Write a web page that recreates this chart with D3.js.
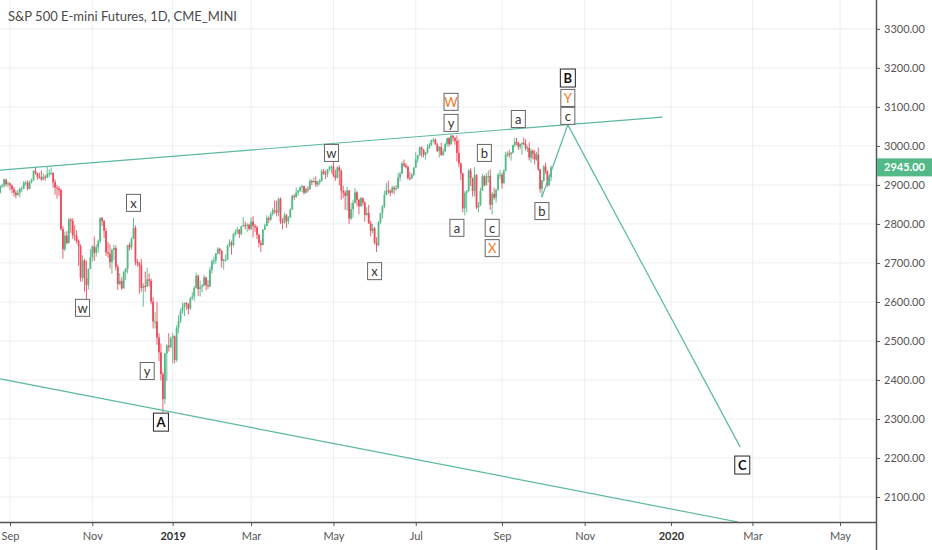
<!DOCTYPE html>
<html>
<head>
<meta charset="utf-8">
<script src="https://cdn.jsdelivr.net/npm/d3@7"></script>
<style>
body { margin: 0; background: #fff; }
svg { display: block; font-family: Lato, "Open Sans", sans-serif; }
</style>
</head>
<body>
<script>
var width = 932,
    height = 550,
    plotW = 876,
    plotH = 522;

var title = "S&P 500 E-mini Futures, 1D, CME_MINI";

// exchange holidays, no bar on these days
var holidays = ["2018-09-03", "2018-11-22", "2018-12-25", "2019-01-01", "2019-01-21",
  "2019-02-18", "2019-04-19", "2019-05-27", "2019-07-04", "2019-09-02", "2019-11-28",
  "2019-12-25", "2020-01-01", "2020-01-20", "2020-02-17", "2020-04-10", "2020-05-25"];

// daily bars: date, open, high, low, close
var candles = [
  ["2018-08-27",2880,2899,2878,2897], ["2018-08-28",2897,2903,2893,2898], ["2018-08-29",2898,2916,2893,2914],
  ["2018-08-30",2914,2915,2896,2902], ["2018-08-31",2902,2909,2894,2904],
  ["2018-09-04",2904,2906,2887,2899], ["2018-09-05",2899,2901,2879,2889], ["2018-09-06",2889,2895,2870,2880],
  ["2018-09-07",2880,2886,2866,2874], ["2018-09-10",2874,2887,2872,2880], ["2018-09-11",2880,2893,2868,2890],
  ["2018-09-12",2890,2897,2882,2891], ["2018-09-13",2891,2910,2889,2906], ["2018-09-14",2906,2910,2898,2906],
  ["2018-09-17",2906,2912,2886,2890], ["2018-09-18",2890,2911,2889,2907], ["2018-09-19",2907,2917,2904,2912],
  ["2018-09-20",2912,2938,2911,2936], ["2018-09-21",2936,2946,2926,2930], ["2018-09-24",2930,2932,2913,2921],
  ["2018-09-25",2921,2931,2916,2919], ["2018-09-26",2919,2937,2911,2914], ["2018-09-27",2914,2929,2912,2921],
  ["2018-09-28",2921,2925,2911,2919],
  ["2018-10-01",2919,2948,2917,2929], ["2018-10-02",2929,2940,2920,2930], ["2018-10-03",2930,2945,2925,2931],
  ["2018-10-04",2931,2932,2893,2907], ["2018-10-05",2907,2914,2875,2893], ["2018-10-08",2893,2900,2865,2891],
  ["2018-10-09",2891,2897,2872,2887], ["2018-10-10",2887,2890,2783,2787], ["2018-10-11",2787,2795,2711,2735],
  ["2018-10-12",2735,2780,2730,2770], ["2018-10-15",2770,2782,2747,2751], ["2018-10-16",2751,2815,2750,2811],
  ["2018-10-17",2811,2815,2777,2808], ["2018-10-18",2808,2815,2762,2771], ["2018-10-19",2771,2796,2757,2769],
  ["2018-10-22",2769,2784,2750,2756], ["2018-10-23",2756,2760,2693,2743], ["2018-10-24",2743,2748,2652,2662],
  ["2018-10-25",2662,2720,2652,2706], ["2018-10-26",2706,2711,2627,2661], ["2018-10-29",2661,2706,2603,2643],
  ["2018-10-30",2643,2686,2632,2685], ["2018-10-31",2685,2736,2684,2715],
  ["2018-11-01",2715,2745,2704,2742], ["2018-11-02",2742,2768,2705,2726], ["2018-11-05",2726,2748,2716,2740],
  ["2018-11-06",2740,2760,2726,2756], ["2018-11-07",2756,2817,2750,2815], ["2018-11-08",2815,2818,2795,2807],
  ["2018-11-09",2807,2810,2764,2782], ["2018-11-12",2782,2790,2718,2727], ["2018-11-13",2727,2754,2713,2724],
  ["2018-11-14",2724,2748,2686,2702], ["2018-11-15",2702,2737,2672,2733], ["2018-11-16",2733,2747,2707,2738],
  ["2018-11-19",2738,2745,2681,2690], ["2018-11-20",2690,2696,2631,2646], ["2018-11-21",2646,2674,2643,2654],
  ["2018-11-23",2654,2663,2631,2635], ["2018-11-26",2635,2680,2634,2677], ["2018-11-27",2677,2687,2656,2685],
  ["2018-11-28",2685,2746,2673,2746], ["2018-11-29",2746,2753,2732,2740], ["2018-11-30",2740,2765,2734,2763],
  ["2018-12-03",2763,2815,2761,2790], ["2018-12-04",2790,2796,2694,2703], ["2018-12-05",2703,2710,2690,2700],
  ["2018-12-06",2700,2703,2621,2694], ["2018-12-07",2694,2711,2626,2636], ["2018-12-10",2636,2648,2588,2641],
  ["2018-12-11",2641,2678,2626,2640], ["2018-12-12",2640,2687,2638,2658], ["2018-12-13",2658,2673,2640,2654],
  ["2018-12-14",2654,2660,2594,2601], ["2018-12-17",2601,2612,2532,2550], ["2018-12-18",2550,2574,2532,2550],
  ["2018-12-19",2550,2600,2490,2509], ["2018-12-20",2509,2520,2448,2471], ["2018-12-21",2471,2494,2399,2415],
  ["2018-12-24",2415,2420,2317,2351], ["2018-12-26",2351,2470,2339,2468], ["2018-12-27",2468,2492,2398,2488],
  ["2018-12-28",2488,2520,2473,2484], ["2018-12-31",2484,2511,2481,2507],
  ["2019-01-02",2507,2521,2442,2512], ["2019-01-03",2512,2514,2443,2451], ["2019-01-04",2451,2540,2447,2534],
  ["2019-01-07",2534,2566,2520,2551], ["2019-01-08",2551,2583,2546,2576], ["2019-01-09",2576,2598,2570,2587],
  ["2019-01-10",2587,2599,2564,2597], ["2019-01-11",2597,2600,2580,2595], ["2019-01-14",2595,2597,2568,2583],
  ["2019-01-15",2583,2613,2580,2610], ["2019-01-16",2610,2625,2605,2614], ["2019-01-17",2614,2641,2603,2636],
  ["2019-01-18",2636,2675,2634,2667], ["2019-01-22",2667,2670,2615,2633], ["2019-01-23",2633,2655,2614,2638],
  ["2019-01-24",2638,2646,2625,2642], ["2019-01-25",2642,2670,2640,2663], ["2019-01-28",2663,2665,2630,2643],
  ["2019-01-29",2643,2656,2633,2640], ["2019-01-30",2640,2690,2638,2682], ["2019-01-31",2682,2709,2673,2704],
  ["2019-02-01",2704,2716,2696,2706], ["2019-02-04",2706,2725,2697,2724], ["2019-02-05",2724,2740,2721,2736],
  ["2019-02-06",2736,2739,2722,2730], ["2019-02-07",2730,2733,2688,2705], ["2019-02-08",2705,2711,2683,2708],
  ["2019-02-11",2708,2722,2703,2709], ["2019-02-12",2709,2747,2707,2744], ["2019-02-13",2744,2761,2740,2752],
  ["2019-02-14",2752,2757,2721,2746], ["2019-02-15",2746,2777,2742,2774], ["2019-02-19",2774,2786,2768,2780],
  ["2019-02-20",2780,2792,2774,2785], ["2019-02-21",2785,2787,2764,2774], ["2019-02-22",2774,2795,2771,2794],
  ["2019-02-25",2794,2817,2793,2797], ["2019-02-26",2797,2806,2786,2795], ["2019-02-27",2795,2802,2779,2798],
  ["2019-02-28",2798,2801,2783,2787],
  ["2019-03-01",2787,2817,2785,2806], ["2019-03-04",2806,2820,2766,2795], ["2019-03-05",2795,2800,2780,2791],
  ["2019-03-06",2791,2796,2761,2772], ["2019-03-07",2772,2775,2740,2751], ["2019-03-08",2751,2758,2728,2746],
  ["2019-03-11",2746,2787,2745,2785], ["2019-03-12",2785,2800,2784,2795], ["2019-03-13",2795,2822,2794,2815],
  ["2019-03-14",2815,2819,2802,2811], ["2019-03-15",2811,2830,2808,2825], ["2019-03-18",2825,2841,2821,2835],
  ["2019-03-19",2835,2860,2826,2834], ["2019-03-20",2834,2860,2819,2829], ["2019-03-21",2829,2868,2820,2864],
  ["2019-03-22",2864,2868,2800,2806], ["2019-03-25",2806,2815,2786,2803], ["2019-03-26",2803,2829,2801,2822],
  ["2019-03-27",2822,2826,2790,2807], ["2019-03-28",2807,2820,2799,2817], ["2019-03-29",2817,2840,2815,2837],
  ["2019-04-01",2837,2875,2836,2872], ["2019-04-02",2872,2876,2862,2869], ["2019-04-03",2869,2893,2867,2880],
  ["2019-04-04",2880,2887,2872,2885], ["2019-04-05",2885,2896,2882,2894], ["2019-04-08",2894,2900,2881,2897],
  ["2019-04-09",2897,2898,2875,2880], ["2019-04-10",2880,2892,2878,2890], ["2019-04-11",2890,2897,2881,2889],
  ["2019-04-12",2889,2916,2888,2910], ["2019-04-15",2910,2914,2899,2908], ["2019-04-16",2908,2919,2905,2910],
  ["2019-04-17",2910,2922,2895,2901], ["2019-04-18",2901,2911,2895,2907], ["2019-04-22",2907,2915,2900,2911],
  ["2019-04-23",2911,2940,2908,2935], ["2019-04-24",2935,2941,2926,2929], ["2019-04-25",2929,2937,2915,2928],
  ["2019-04-26",2928,2941,2920,2940], ["2019-04-29",2940,2949,2936,2946], ["2019-04-30",2946,2950,2930,2947],
  ["2019-05-01",2947,2960,2920,2925], ["2019-05-02",2925,2939,2910,2918], ["2019-05-03",2918,2948,2917,2945],
  ["2019-05-06",2945,2950,2899,2936], ["2019-05-07",2936,2940,2862,2885], ["2019-05-08",2885,2898,2866,2880],
  ["2019-05-09",2880,2886,2836,2872], ["2019-05-10",2872,2895,2834,2886], ["2019-05-13",2886,2887,2800,2814],
  ["2019-05-14",2814,2854,2810,2838], ["2019-05-15",2838,2862,2816,2854], ["2019-05-16",2854,2892,2852,2881],
  ["2019-05-17",2881,2884,2845,2862], ["2019-05-20",2862,2865,2825,2845], ["2019-05-21",2845,2869,2845,2866],
  ["2019-05-22",2866,2868,2847,2855], ["2019-05-23",2855,2858,2806,2823], ["2019-05-24",2823,2843,2821,2828],
  ["2019-05-28",2828,2849,2800,2802], ["2019-05-29",2802,2808,2768,2782], ["2019-05-30",2782,2800,2776,2789],
  ["2019-05-31",2789,2792,2748,2752],
  ["2019-06-03",2752,2766,2728,2745], ["2019-06-04",2745,2807,2744,2805], ["2019-06-05",2805,2829,2799,2827],
  ["2019-06-06",2827,2848,2814,2845], ["2019-06-07",2845,2885,2840,2874], ["2019-06-10",2874,2905,2874,2886],
  ["2019-06-11",2886,2911,2877,2885], ["2019-06-12",2885,2888,2871,2880], ["2019-06-13",2880,2898,2878,2893],
  ["2019-06-14",2893,2897,2876,2889], ["2019-06-17",2889,2900,2885,2892], ["2019-06-18",2892,2931,2890,2919],
  ["2019-06-19",2919,2934,2909,2929], ["2019-06-20",2929,2960,2928,2955], ["2019-06-21",2955,2965,2946,2950],
  ["2019-06-24",2950,2956,2942,2946], ["2019-06-25",2946,2950,2914,2918], ["2019-06-26",2918,2933,2912,2917],
  ["2019-06-27",2917,2930,2915,2926], ["2019-06-28",2926,2946,2922,2944],
  ["2019-07-01",2944,2984,2944,2966], ["2019-07-02",2966,2977,2957,2976], ["2019-07-03",2976,2998,2975,2996],
  ["2019-07-05",2996,2999,2971,2990], ["2019-07-08",2990,2992,2970,2977], ["2019-07-09",2977,2985,2965,2983],
  ["2019-07-10",2983,3004,2980,2996], ["2019-07-11",2996,3008,2992,3003], ["2019-07-12",3003,3016,3000,3015],
  ["2019-07-15",3015,3021,3010,3016], ["2019-07-16",3016,3019,3003,3004], ["2019-07-17",3004,3008,2984,2987],
  ["2019-07-18",2987,3000,2970,2997], ["2019-07-19",2997,3008,2974,2977], ["2019-07-22",2977,2993,2974,2986],
  ["2019-07-23",2986,3008,2985,3005], ["2019-07-24",3005,3021,2998,3020], ["2019-07-25",3020,3022,2998,3004],
  ["2019-07-26",3004,3029,3003,3026], ["2019-07-29",3026,3028,3011,3021], ["2019-07-30",3021,3022,3003,3013],
  ["2019-07-31",3013,3027,2960,2982],
  ["2019-08-01",2982,3016,2945,2955], ["2019-08-02",2955,2958,2912,2929], ["2019-08-05",2929,2931,2830,2840],
  ["2019-08-06",2840,2884,2822,2879], ["2019-08-07",2879,2887,2830,2884], ["2019-08-08",2884,2941,2883,2937],
  ["2019-08-09",2937,2943,2897,2917], ["2019-08-12",2917,2919,2870,2884], ["2019-08-13",2884,2946,2871,2925],
  ["2019-08-14",2925,2928,2838,2842], ["2019-08-15",2842,2856,2830,2849], ["2019-08-16",2849,2893,2846,2885],
  ["2019-08-19",2885,2928,2885,2922], ["2019-08-20",2922,2925,2896,2899], ["2019-08-21",2899,2930,2899,2922],
  ["2019-08-22",2922,2937,2906,2923], ["2019-08-23",2923,2940,2836,2849], ["2019-08-26",2849,2882,2824,2877],
  ["2019-08-27",2877,2893,2862,2867], ["2019-08-28",2867,2890,2855,2887], ["2019-08-29",2887,2931,2886,2926],
  ["2019-08-30",2926,2939,2915,2926],
  ["2019-09-03",2926,2931,2890,2904], ["2019-09-04",2904,2940,2904,2936], ["2019-09-05",2936,2985,2935,2977],
  ["2019-09-06",2977,2986,2972,2980], ["2019-09-09",2980,2990,2970,2979], ["2019-09-10",2979,2984,2962,2983],
  ["2019-09-11",2983,3003,2980,3002], ["2019-09-12",3002,3021,2997,3010], ["2019-09-13",3010,3020,3002,3008],
  ["2019-09-16",3008,3010,2990,2998], ["2019-09-17",2998,3006,2991,3005], ["2019-09-18",3005,3010,2977,3007],
  ["2019-09-19",3007,3021,3002,3005], ["2019-09-20",3005,3017,2988,2994], ["2019-09-23",2994,3000,2984,2995],
  ["2019-09-24",2995,3009,2963,2970], ["2019-09-25",2970,2993,2957,2987], ["2019-09-26",2987,2991,2966,2980],
  ["2019-09-27",2980,2989,2953,2965], ["2019-09-30",2965,2985,2962,2978],
  ["2019-10-01",2978,2996,2936,2940], ["2019-10-02",2940,2941,2880,2890], ["2019-10-03",2890,2913,2868,2911],
  ["2019-10-04",2911,2951,2908,2947], ["2019-10-07",2947,2957,2928,2936], ["2019-10-08",2936,2937,2895,2900],
  ["2019-10-09",2900,2925,2896,2920], ["2019-10-10",2920,2950,2910,2945]
];

var priceTicks = [2100, 2200, 2300, 2400, 2500, 2600, 2700, 2800, 2900, 3000, 3100, 3200, 3300];
var lastPrice = 2945;

// drawings: date, price
var trendUpper = [["2018-08-27", 2938], ["2019-12-26", 3074]];
var trendLower = [["2018-08-27", 2403], ["2020-02-20", 2036]];
var wavePath = [["2019-10-03", 2869], ["2019-10-22", 3054], ["2020-02-21", 2228]];

// wave labels: date, price, text, kind (n = minor, o = orange, b = bold)
var waveLabels = [
  ["2018-10-25", 2585, "w", "n"],
  ["2018-12-03", 2854, "x", "n"],
  ["2018-12-12", 2423, "y", "n"],
  ["2018-12-21", 2292, "A", "b"],
  ["2019-04-30", 2982, "w", "n"],
  ["2019-05-31", 2679, "x", "n"],
  ["2019-07-26", 3113, "W", "o"],
  ["2019-07-26", 3059, "y", "n"],
  ["2019-07-31", 2790, "a", "n"],
  ["2019-08-20", 2982, "b", "n"],
  ["2019-08-26", 2790, "c", "n"],
  ["2019-08-26", 2738, "X", "o"],
  ["2019-09-16", 3069, "a", "n"],
  ["2019-10-03", 2833, "b", "n"],
  ["2019-10-22", 3174, "B", "b"],
  ["2019-10-22", 3123, "Y", "o"],
  ["2019-10-22", 3077, "c", "n"],
  ["2020-02-24", 2182, "C", "b"]
];

var upColor = "#53b987",
    downColor = "#eb4d5c",
    lineColor = "#5cb8a2",
    gridColor = "#eceef2";

var parse = d3.timeParse("%Y-%m-%d"),
    fmt = d3.timeFormat("%Y-%m-%d");

// trading days, weekends and holidays left out
var skip = new Set(holidays);
var days = [];
for (var d = parse("2018-08-27"); d <= parse("2020-06-30"); d = d3.timeDay.offset(d, 1)) {
  if (d.getDay() == 0 || d.getDay() == 6 || skip.has(fmt(d))) continue;
  days.push(d);
}
var idx = {};
days.forEach(function (d, i) { idx[fmt(d)] = i; });

var x = d3.scaleLinear()
    .domain([idx["2018-09-04"], idx["2019-09-03"], idx["2019-10-10"], idx["2020-01-02"], idx["2020-05-01"]])
    .range([10, 502, 551, 671, 840]);

var y = d3.scaleLinear()
    .domain([2036, 3374])
    .range([plotH, 0]);

var svg = d3.select("body").append("svg")
    .attr("width", width)
    .attr("height", height);

svg.append("defs").append("clipPath").attr("id", "plot")
  .append("rect").attr("width", plotW).attr("height", plotH);

/* month ticks every other month */
var monthTicks = days.map(function (d, i) { return i; }).filter(function (i) {
  var d = days[i];
  return i > 0 && d.getMonth() != days[i - 1].getMonth() && d.getMonth() % 2 == 0 && x(i) < plotW;
});

var grid = svg.append("g");
grid.selectAll(".vg").data(monthTicks).enter().append("line")
    .attr("x1", function (i) { return x(i); })
    .attr("x2", function (i) { return x(i); })
    .attr("y1", 0).attr("y2", plotH)
    .attr("stroke", gridColor);
grid.selectAll(".hg").data(priceTicks).enter().append("line")
    .attr("x1", 0).attr("x2", plotW)
    .attr("y1", function (p) { return y(p); })
    .attr("y2", function (p) { return y(p); })
    .attr("stroke", gridColor);

svg.append("text")
    .attr("x", 8).attr("y", 21)
    .attr("font-size", 13)
    .attr("fill", "#4a4a4a")
    .text(title);

var plot = svg.append("g").attr("clip-path", "url(#plot)");

/* candles */
var bars = candles.filter(function (c) { return idx[c[0]] != null; });
var bw = 1.8;
var cand = plot.selectAll(".c").data(bars).enter().append("g")
    .attr("transform", function (c) { return "translate(" + x(idx[c[0]]) + ",0)"; });
cand.append("line")
    .attr("y1", function (c) { return y(c[2]); })
    .attr("y2", function (c) { return y(c[3]); })
    .attr("stroke", function (c) { return c[4] >= c[1] ? upColor : downColor; })
    .attr("stroke-width", 0.9);
cand.append("rect")
    .attr("x", -bw / 2)
    .attr("width", bw)
    .attr("y", function (c) { return y(Math.max(c[1], c[4])); })
    .attr("height", function (c) { return Math.max(1, Math.abs(y(c[1]) - y(c[4]))); })
    .attr("fill", function (c) { return c[4] >= c[1] ? upColor : downColor; });

/* trend lines and projected path */
var line = d3.line()
    .x(function (p) { return x(idx[p[0]]); })
    .y(function (p) { return y(p[1]); });
[trendUpper, trendLower, wavePath].forEach(function (pts) {
  plot.append("path")
      .attr("d", line(pts))
      .attr("fill", "none")
      .attr("stroke", lineColor)
      .attr("stroke-width", 1.2);
});

/* wave labels */
var lab = svg.selectAll(".lab").data(waveLabels).enter().append("g")
    .attr("transform", function (l) { return "translate(" + x(idx[l[0]]) + "," + y(l[1]) + ")"; });
lab.append("rect")
    .attr("x", function (l) { return l[3] == "b" ? -7.5 : -7; })
    .attr("y", function (l) { return l[3] == "b" ? -9 : -8.5; })
    .attr("width", function (l) { return l[3] == "b" ? 15 : 14; })
    .attr("height", function (l) { return l[3] == "b" ? 18 : 17; })
    .attr("fill", "#fff")
    .attr("stroke", function (l) { return l[3] == "b" ? "#222" : "#666"; })
    .attr("stroke-width", 1);
lab.append("text")
    .attr("text-anchor", "middle")
    .attr("dy", "0.36em")
    .attr("font-size", 13)
    .attr("font-weight", function (l) { return l[3] == "b" ? "bold" : "normal"; })
    .attr("fill", function (l) { return l[3] == "o" ? "#ef7a22" : l[3] == "b" ? "#111" : "#333"; })
    .text(function (l) { return l[2]; });

/* axes */
var xAxis = svg.append("g")
    .attr("transform", "translate(0," + plotH + ")")
    .call(d3.axisBottom(x)
      .tickValues(monthTicks)
      .tickSize(4)
      .tickPadding(6)
      .tickFormat(function (i) {
        var d = days[i];
        return d.getMonth() == 0 ? d3.timeFormat("%Y")(d) : d3.timeFormat("%b")(d);
      }));
xAxis.select(".domain").remove();
xAxis.selectAll("line").attr("stroke", "#555");
xAxis.selectAll("text")
    .attr("font-size", 11)
    .attr("font-family", "Lato, sans-serif")
    .attr("fill", function (i) { return days[i].getMonth() == 0 ? "#333" : "#555"; })
    .attr("font-weight", function (i) { return days[i].getMonth() == 0 ? "bold" : "normal"; });

var yAxis = svg.append("g")
    .attr("transform", "translate(" + plotW + ",0)")
    .call(d3.axisRight(y)
      .tickValues(priceTicks)
      .tickSize(4)
      .tickPadding(4)
      .tickFormat(d3.format(".2f")));
yAxis.select(".domain").remove();
yAxis.selectAll("line").attr("stroke", "#555");
yAxis.selectAll("text")
    .attr("font-size", 11)
    .attr("font-family", "Lato, sans-serif")
    .attr("fill", "#555");

svg.append("line")
    .attr("x1", 0).attr("x2", plotW + 0.5)
    .attr("y1", plotH + 0.5).attr("y2", plotH + 0.5)
    .attr("stroke", "#555").attr("stroke-width", 1.5);
svg.append("line")
    .attr("x1", plotW + 0.5).attr("x2", plotW + 0.5)
    .attr("y1", 0).attr("y2", height)
    .attr("stroke", "#555").attr("stroke-width", 1.5);

/* last price badge */
var badge = svg.append("g").attr("transform", "translate(" + (plotW + 1) + "," + y(lastPrice) + ")");
badge.append("rect")
    .attr("x", 0).attr("y", -9)
    .attr("width", width - plotW).attr("height", 18)
    .attr("fill", upColor);
badge.append("text")
    .attr("x", 7).attr("dy", "0.36em")
    .attr("font-size", 11)
    .attr("font-weight", "bold")
    .attr("fill", "#fff")
    .text(d3.format(".2f")(lastPrice));
</script>
</body>
</html>
